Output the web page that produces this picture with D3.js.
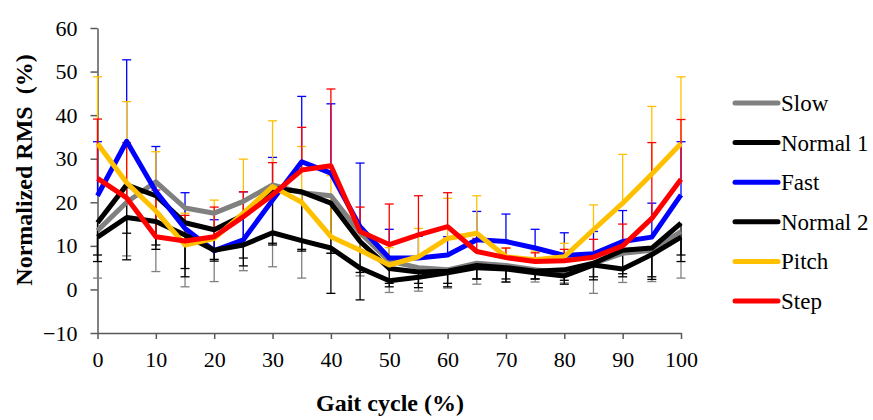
<!DOCTYPE html>
<html>
<head>
<meta charset="utf-8">
<script src="https://cdn.jsdelivr.net/npm/d3@7"></script>
<style>
  body { margin: 0; background: #fff; }
  svg text { font-family: "Liberation Serif", "DejaVu Serif", "Times New Roman", serif; }
</style>
</head>
<body>
<svg id="chart" width="873" height="420"></svg>
<script>
// gait cycle positions (%)
var gaitCycle = [0, 5, 10, 15, 20, 25, 30, 35, 40, 45, 50, 55, 60, 65, 70, 75, 80, 85, 90, 95, 100];

// mean normalized RMS (%) for each condition
var slow    = [13.5, 20, 24.7, 18.7, 17.5, 20.2, 24, 22.2, 21.5, 13, 6.5, 5, 4.5, 6, 5.5, 4.5, 3.8, 6, 8.3, 9, 13.3];
var normal1 = [15.3, 24, 21.5, 15.3, 13.7, 17, 23.2, 22.4, 19.8, 11, 4.8, 4, 4.2, 5.5, 5, 4.2, 4.5, 6, 9, 9.5, 15.2];
var fast    = [21.5, 34, 22.5, 14, 8.9, 11.4, 20.5, 29.3, 26.7, 14.4, 7.2, 7.2, 7.9, 11.4, 11, 9.5, 7.8, 8.2, 11, 12, 21.7];
var normal2 = [12, 16.5, 15.6, 12.5, 9, 10.2, 13, 11.2, 9.5, 4.9, 2, 2.8, 3.8, 5, 4.7, 3.8, 3.1, 5.6, 4.7, 8, 12];
var pitch   = [33.5, 24.5, 18, 10.2, 11.7, 17.5, 23.6, 20, 12.1, 9, 5.6, 7.5, 11.7, 12.9, 7.5, 6.8, 7.5, 13.7, 19.8, 26.5, 33.5];
var step    = [25.5, 21, 12.1, 11.1, 12.1, 16.7, 21.7, 27.4, 28.4, 13.3, 10.3, 12.5, 14.4, 8.7, 7.3, 6.4, 6.6, 7.4, 10, 16.3, 25.3];

// standard deviations (error bars)
var slowSd    = [10.9, 12.3, 20.6, 18.1, 15.7, 15.9, 18.8, 19.6, 13.2, 9.9, 7.2, 5.4, 4.2, 4.8, 3.8, 2.8, 2.3, 6.9, 6.7, 7.2, 10.7];
var normal1Sd = [7.4, 17.2, 12.3, 12.4, 6.8, 11.6, 13, 13.6, 20.7, 13.4, 4.2, 3.6, 3.6, 3.1, 2.6, 1.8, 2.4, 3.8, 6.1, 7.2, 7.3];
var fastSd    = [12.4, 18.7, 10.3, 8.2, 7.1, 11, 9.8, 15, 15.9, 14.6, 6.6, 5, 4.2, 6.5, 6.3, 4.3, 5.2, 5.1, 7.1, 7.8, 12.2];
var normal2Sd = [5.6, 3.6, 5.4, 7.7, 2.5, 3, 2.4, 2, 1.2, 1, 0.6, 1.4, 2.4, 2.6, 3, 1.4, 1.9, 2.7, 1.1, 5.1, 5.6];
var pitchSd   = [15.3, 18.6, 13.6, 7.3, 8.8, 12.4, 15.1, 12.8, 14, 5, 4, 6.5, 9.2, 8.6, 2, 2, 3.1, 5.7, 11.2, 15.5, 15.3];
var stepSd    = [13.6, 12.7, 10.7, 5.9, 6.8, 5.7, 7.4, 9.8, 17.6, 5.6, 9.3, 9, 7.8, 3, 2.2, 2, 2.6, 4.1, 5, 17.4, 13.7];

var seriesNames = ["Slow", "Normal 1", "Fast", "Normal 2", "Pitch", "Step"];
var yTicks = [-10, 0, 10, 20, 30, 40, 50, 60];
var xTicks = [0, 10, 20, 30, 40, 50, 60, 70, 80, 90, 100];

var fontFamily = "'Liberation Serif', 'DejaVu Serif', 'Times New Roman', serif";

// direction of the error bar: +1 plus only, -1 minus only
var series = [
  { name: seriesNames[0], values: slow, sd: slowSd, dir: -1, color: "#808080" },
  { name: seriesNames[1], values: normal1, sd: normal1Sd, dir: -1, color: "#000000" },
  { name: seriesNames[2], values: fast, sd: fastSd, dir: 1, color: "#0000ff" },
  { name: seriesNames[3], values: normal2, sd: normal2Sd, dir: -1, color: "#000000" },
  { name: seriesNames[4], values: pitch, sd: pitchSd, dir: 1, color: "#ffc000" },
  { name: seriesNames[5], values: step, sd: stepSd, dir: 1, color: "#ff0000" }
];

var svg = d3.select("#chart");

var xScale = d3.scaleLinear().domain([0, 100]).range([97.5, 681]);
var yScale = d3.scaleLinear().domain([-10, 60]).range([333, 28]);

var axisColor = "#595959";

//y-axis
var leftAxis = d3.axisLeft(yScale).tickValues(yTicks).tickSize(7).tickSizeOuter(0).tickPadding(13);
var yAxisG = svg.append("g")
  .attr("transform", "translate(" + xScale(0) + ",0)")
  .call(leftAxis);

//x-axis at the bottom of the plot (y = -10)
var bottomAxis = d3.axisBottom(xScale).tickValues(xTicks).tickSize(6).tickSizeOuter(0).tickPadding(12);
var xAxisG = svg.append("g")
  .attr("transform", "translate(0," + yScale(-10) + ")")
  .call(bottomAxis);

[yAxisG, xAxisG].forEach(function (g) {
  g.attr("font-family", fontFamily).attr("font-size", 22);
  g.select(".domain").attr("stroke", axisColor).attr("stroke-width", 1.5);
  g.selectAll(".tick line").attr("stroke", axisColor).attr("stroke-width", 1.5);
  g.selectAll(".tick text").attr("fill", "#000");
});

// error bars first, lines on top
var capHalf = 4.5;
series.forEach(function (s) {
  var g = svg.append("g").attr("class", "errorbars");
  gaitCycle.forEach(function (x, i) {
    var y0 = yScale(s.values[i]);
    var y1 = yScale(s.values[i] + s.dir * s.sd[i]);
    var cx = xScale(x);
    g.append("line")
      .attr("x1", cx).attr("x2", cx)
      .attr("y1", y0).attr("y2", y1)
      .attr("stroke", s.color).attr("stroke-width", 1.3);
    g.append("line")
      .attr("x1", cx - capHalf).attr("x2", cx + capHalf)
      .attr("y1", y1).attr("y2", y1)
      .attr("stroke", s.color).attr("stroke-width", 1.3);
  });
});

var line = d3.line()
  .x(function (d) { return xScale(d[0]); })
  .y(function (d) { return yScale(d[1]); });

series.forEach(function (s) {
  svg.append("path")
    .datum(gaitCycle.map(function (x, i) { return [x, s.values[i]]; }))
    .attr("d", line)
    .attr("fill", "none")
    .attr("stroke", s.color)
    .attr("stroke-width", 5)
    .attr("stroke-linejoin", "round");
});

// legend
var legend = svg.append("g").attr("transform", "translate(735,103)");
series.forEach(function (s, i) {
  var row = legend.append("g").attr("transform", "translate(0," + (i * 39.6) + ")");
  row.append("line")
    .attr("x1", 0).attr("x2", 43)
    .attr("y1", 0).attr("y2", 0)
    .attr("stroke", s.color)
    .attr("stroke-width", 5)
    .attr("stroke-linecap", "round");
  row.append("text")
    .attr("x", 46)
    .attr("dy", "0.35em")
    .attr("font-family", fontFamily)
    .attr("font-size", 23)
    .text(s.name);
});

//x-axis label
svg.append("text")
  .attr("x", 390)
  .attr("y", 411)
  .attr("text-anchor", "middle")
  .attr("font-family", fontFamily)
  .attr("font-size", 24)
  .attr("font-weight", "bold")
  .text("Gait cycle (%)");

//y-axis label, rotated to be vertical text
svg.append("text")
  .attr("transform", "translate(32,170)rotate(-90)")
  .attr("text-anchor", "middle")
  .attr("font-family", fontFamily)
  .attr("font-size", 24)
  .attr("font-weight", "bold")
  .style("white-space", "pre")
  .text("Normalized RMS  (%)");
</script>
</body>
</html>
